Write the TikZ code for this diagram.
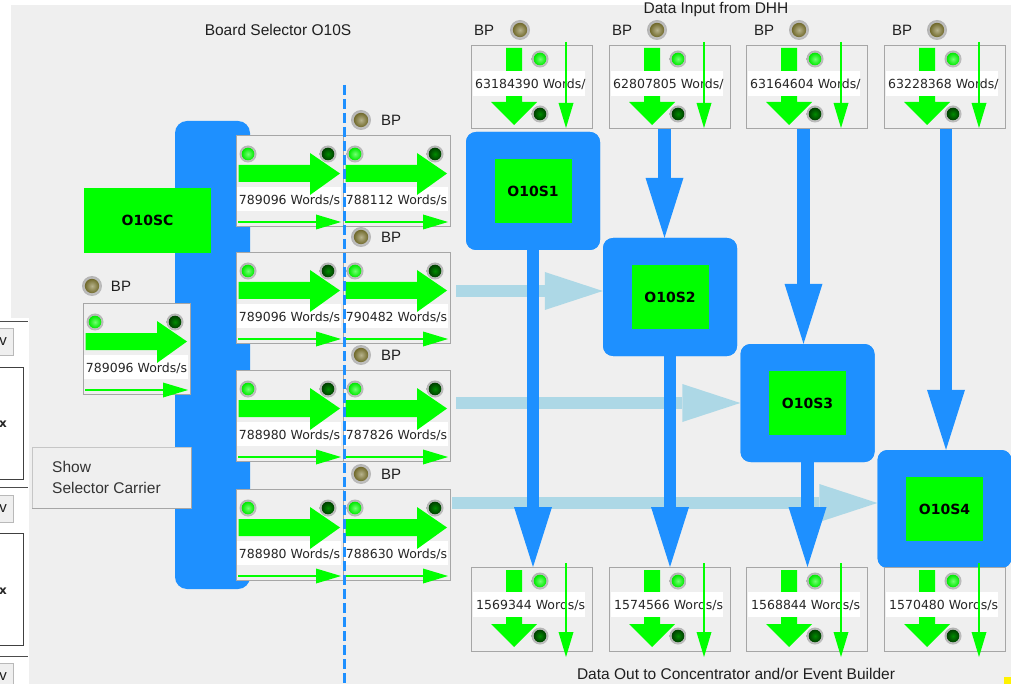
\documentclass[tikz,border=0pt]{standalone}
\usepackage{fontspec}
\setmainfont{Liberation Sans}
\newfontfamily\cardfont{DejaVu Sans}
\usetikzlibrary{arrows.meta}

\definecolor{panelgray}{HTML}{EFEFEF}
\definecolor{framegray}{HTML}{A6A6A6}
\definecolor{selblue}{HTML}{1E90FF}
\definecolor{flowblue}{HTML}{ADD8E6}
\definecolor{ledgreen}{HTML}{00FF00}
\definecolor{bpolive}{HTML}{7D7530}

\begin{document}
\begin{tikzpicture}
[x=1pt,y=-1pt,
  cardbox/.style={draw=framegray,fill=panelgray,line width=0.8pt,anchor=north west,inner sep=0pt},
  hcardbox/.style={cardbox,minimum width=107pt,minimum height=91pt},
  vcardbox/.style={cardbox,minimum width=121pt,minimum height=84pt},
  ratetext/.style={font=\cardfont\fontsize{12.5}{14}\selectfont,text=black!85,inner sep=0pt},
  titletext/.style={font=\fontsize{15.5}{18}\selectfont,text=black!88,inner sep=0pt},
  bptext/.style={font=\fontsize{15}{18}\selectfont,text=black!88,inner sep=0pt},
  chip/.style={fill=ledgreen,inner sep=0pt,minimum width=77pt,minimum height=64pt,
    font=\cardfont\bfseries\fontsize{14}{16}\selectfont},
  selbox/.style={fill=selblue,rounded corners=10pt,inner sep=0pt,
    minimum width=134pt,minimum height=118pt},
  ledring/.style={inner color=gray!20,outer color=gray!60},
  greenled/.style={inner color=ledgreen!55!white,outer color=ledgreen!92!black},
  darkled/.style={inner color=green!55!black,outer color=green!25!black},
  bpled/.style={inner color=bpolive!55!white,outer color=bpolive!90!black},
  bigflow/.style={draw=selblue,line width=12.5pt,
    -{Triangle[length=60pt,width=38pt,line width=0pt]}},
  sideflow/.style={draw=flowblue,line width=12.5pt,
    -{Triangle[length=58pt,width=38pt,line width=0pt]}},
  thinflow/.style={draw=ledgreen,line width=1.8pt,
    -{Triangle[length=25pt,width=15pt,line width=0pt]}}]
\useasboundingbox (0,0) rectangle (1011,684);
%% window
\fill[white] (0,0) rectangle (1011,684);
\fill[panelgray] (11,5) rectangle (1011,684);
\fill[yellow] (1004,677) rectangle (1011,684);
%% titles
\node[titletext] (seltitle) at (278,30) {Board Selector O10S};
\node[titletext] (intitle) at (716,10) {Data Input from DHH};
\node[titletext] (outtitle) at (736,674) {Data Out to Concentrator and/or Event Builder};
%% board selector carrier
\node[fill=selblue,rounded corners=12pt,inner sep=0pt,minimum width=75pt,
  minimum height=468pt] (sel) at (212.5,355) {};
%% selector boxes and the flows between them
\node[selbox] (s1) at (533,191) {};
\node[selbox] (s2) at (670,297) {};
\node[selbox] (s3) at (807.5,403) {};
\node[selbox] (s4) at (944.5,509) {};
\coordinate (f2) at (456,291);
\coordinate (f3) at (456,403);
\coordinate (f4) at (452,503);
\foreach \src/\dst in {f2/s2, f3/s3, f4/s4}
{
  \draw[sideflow] (\src) -- (\src -| \dst.west);
}
%% input and output card frames
\foreach \cardname/\x/\y in {in1/471/45, in2/609/45, in3/746/45, in4/884/45,
  out1/471/567, out2/609/567, out3/746/567, out4/884/567}
{
  \coordinate (\cardname) at (\x,\y);
}
\coordinate (in2-foot) at (664.5,128);
\coordinate (in3-foot) at (803.5,128);
\coordinate (in4-foot) at (946,128);
\foreach \src/\dst in {in2-foot/s2, in3-foot/s3, in4-foot/s4}
{
  \draw[bigflow] (\src) -- (\src |- \dst.north);
}
\foreach \src/\dst in {s1/out1, s2/out2, s3/out3}
{
  \draw[bigflow] (\src.south) -- (\src.south |- \dst);
}
%% selectors
\foreach \boxname/\chipname in {s1/O10S1, s2/O10S2, s3/O10S3, s4/O10S4}
{
  \node[selbox] at (\boxname) {};
  \node[chip] (\boxname-chip) at (\boxname) {\chipname};
}
\node[chip,minimum width=127pt,minimum height=65pt] (sc) at (147.5,220.5) {O10SC};
%% board cards
\foreach \cardname/\x/\y/\rate in {bsc/83/303/789096, b1l/236/135/789096,
  b1r/343/135/788112, b2l/236/252/789096, b2r/343/252/790482, b3l/236/370/788980,
  b3r/343/370/787826, b4l/236/489/788980, b4r/343/489/788630}
{
  \begin{scope}[shift={(\x,\y)}]
    \node[hcardbox] (\cardname) at (0,0) {};
    \shade[ledring] (12,19) circle (8.5);
    \shade[greenled] (12,19) circle (6.3);
    \shade[ledring] (92,19) circle (8.5);
    \shade[darkled] (92,19) circle (6.3);
    \fill[white] (1,52) rectangle (105,76);
    \fill[ledgreen] (2.5,30) -- (74,30) -- (74,18) -- (104,38.5) -- (74,60)
      -- (74,47) -- (2.5,47) -- cycle;
    \node[ratetext] (\cardname-rate) at (53.5,65) {\rate\ Words/s};
    \draw[thinflow] (2,87) -- (105,87);
  \end{scope}
}
%% bypass lamps
\foreach \ledname/\x/\y/\tx in {bp0/92/286/121, bp1/361/120/391, bp2/361/237/391,
  bp3/361/355/391, bp4/361/474/391, bpin1/520/30/484, bpin2/657/30/622,
  bpin3/799/30/764, bpin4/937/30/902}
{
  \shade[ledring] (\x,\y) circle (10);
  \shade[bpled] (\x,\y) circle (7.2);
  \node[bptext] (\ledname) at (\tx,\y) {BP};
}
%% DHH input cards
\foreach \cardname/\x/\rate in {in1/471/63184390, in2/609/62807805,
  in3/746/63164604, in4/884/63228368}
{
  \begin{scope}[shift={(\x,45)}]
    \node[vcardbox,minimum height=83pt] (\cardname-box) at (0,0) {};
    \fill[ledgreen] (35,3) -- (51,3) -- (51,57) -- (66,57) -- (43,80) -- (20,57)
      -- (35,57) -- cycle;
    \fill[white] (2,26) rectangle (114,51);
    \node[ratetext,anchor=west] (\cardname-rate) at (4,39) {\rate\ Words/};
    \shade[ledring] (69,14) circle (8.5);
    \shade[greenled] (69,14) circle (6.3);
    \shade[ledring] (69,69) circle (8.5);
    \shade[darkled] (69,69) circle (6.3);
    \draw[thinflow] (95,-3) -- (95,83);
  \end{scope}
}
%% output cards
\foreach \cardname/\x/\rate in {out1/471/1569344, out2/609/1574566,
  out3/746/1568844, out4/884/1570480}
{
  \begin{scope}[shift={(\x,567)}]
    \node[vcardbox] (\cardname-box) at (0,0) {};
    \fill[ledgreen] (35,3) -- (51,3) -- (51,57) -- (66,57) -- (43,80) -- (20,57)
      -- (35,57) -- cycle;
    \fill[white] (2,25) rectangle (114,50);
    \node[ratetext,anchor=west] (\cardname-rate) at (5,38.5) {\rate\ Words/s};
    \shade[ledring] (69,14) circle (8.5);
    \shade[greenled] (69,14) circle (6.3);
    \shade[ledring] (69,69) circle (8.5);
    \shade[darkled] (69,69) circle (6.3);
    \draw[thinflow] (95,-4) -- (95,90);
  \end{scope}
}
%% split line of the carrier
\draw[selblue,line width=3pt,dash pattern=on 10pt off 4pt] (344,85) -- (344,684);
%% button
\node[fill=panelgray,draw=gray!45,anchor=north west,inner sep=0pt,minimum width=159pt,
  minimum height=61pt] (showbtn) at (32,447) {};
\draw[gray!70] (showbtn.south west) -- (showbtn.south east) -- (showbtn.north east);
\node[titletext,anchor=west,text=black!80] (showtxt) at (52,467) {Show};
\node[titletext,anchor=west,text=black!80] (showtxt2) at (52,488) {Selector Carrier};
%% neighbour window at the left edge
\fill[white] (0,318) rectangle (29,684);
\foreach \ly/\by/\fy/\xy in {321/328/367/424, 487/495/533/591}
{
  \draw[black!70,line width=1pt] (0,\ly) -- (28,\ly);
  \draw[gray!55,fill=panelgray] (-3,\by) rectangle (13,\by+27);
  \node[bptext,anchor=east] (v\by) at (7,\by+14) {v};
  \draw[black!75,line width=1pt,fill=white] (-3,\fy) rectangle (23,\fy+112);
  \node[ratetext,font=\cardfont\bfseries\fontsize{12}{14}\selectfont] (x\xy) at (3,\xy) {x};
}
\draw[black!70,line width=1pt] (0,656) -- (28,656);
\draw[gray!55,fill=panelgray] (-3,663) rectangle (13,690);
\node[bptext,anchor=east] (v663) at (7,677) {v};
\end{tikzpicture}
\end{document}
